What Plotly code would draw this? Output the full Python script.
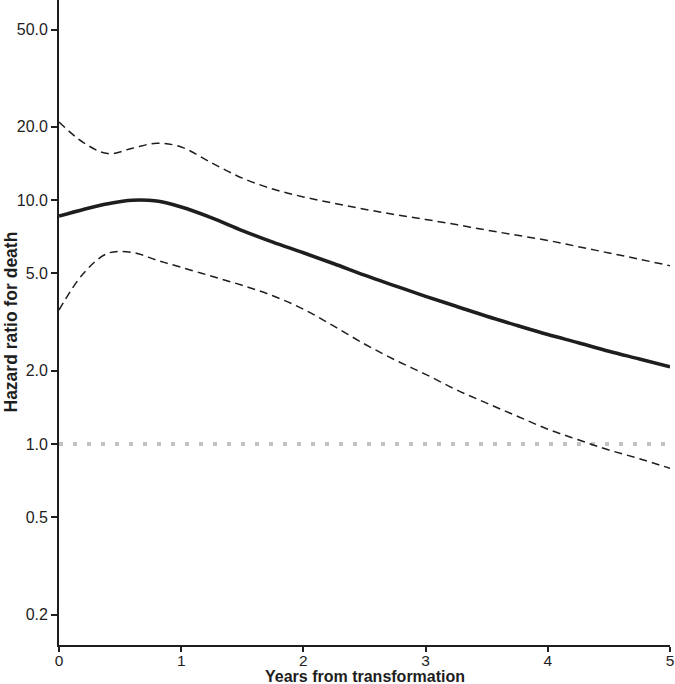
import plotly.graph_objects as go

years = [0, 0.2, 0.4, 0.6, 0.8, 1.0, 1.25, 1.5, 1.75, 2.0, 2.25, 2.5, 2.75,
         3.0, 3.25, 3.5, 3.75, 4.0, 4.25, 4.5, 4.75, 5.0]
hr = [8.6, 9.15, 9.65, 9.98, 9.9, 9.36, 8.45, 7.5, 6.72, 6.08, 5.48, 4.92, 4.45,
      4.03, 3.67, 3.34, 3.06, 2.81, 2.60, 2.40, 2.23, 2.07]
upper = [20.9, 17.2, 15.5, 16.3, 17.1, 16.5, 14.2, 12.3, 11.1, 10.3, 9.7, 9.17, 8.72,
         8.33, 7.93, 7.53, 7.17, 6.83, 6.44, 6.07, 5.72, 5.38]
lower = [3.54, 5.0, 6.05, 6.1, 5.67, 5.3, 4.87, 4.47, 4.05, 3.57, 3.04, 2.57, 2.21,
         1.93, 1.67, 1.47, 1.30, 1.15, 1.04, 0.945, 0.87, 0.795]
ref_x = [0, 5]
ref_y = [1.0, 1.0]
y_ticks = [0.2, 0.5, 1.0, 2.0, 5.0, 10.0, 20.0, 50.0]
y_labels = ["0.2", "0.5", "1.0", "2.0", "5.0", "10.0", "20.0", "50.0"]
x_ticks = [0, 1, 2, 3, 4, 5]

ink = "#1e1e1e"
fig = go.Figure()
fig.add_trace(go.Scatter(x=ref_x, y=ref_y, mode="lines",
                         line=dict(color="#c2c2c2", width=4, dash="4px,10px"),
                         showlegend=False, hoverinfo="skip"))
fig.add_trace(go.Scatter(x=years, y=upper, mode="lines",
                         line=dict(color=ink, width=1.5, dash="8px,5px", shape="spline", smoothing=1.0),
                         showlegend=False))
fig.add_trace(go.Scatter(x=years, y=lower, mode="lines",
                         line=dict(color=ink, width=1.5, dash="8px,5px", shape="spline", smoothing=1.0),
                         showlegend=False))
fig.add_trace(go.Scatter(x=years, y=hr, mode="lines",
                         line=dict(color=ink, width=3.5, shape="spline", smoothing=1.0),
                         showlegend=False))

font_family = "Liberation Sans, Arial, sans-serif"
fig.update_layout(
    width=675, height=684,
    margin=dict(l=59, r=5, t=0, b=39),
    plot_bgcolor="white", paper_bgcolor="white",
    font=dict(family=font_family, size=16, color=ink),
    xaxis=dict(range=[0, 5], tickvals=x_ticks, ticks="outside", ticklen=5, tickwidth=1.5,
               tickcolor=ink, showline=True, linecolor=ink, linewidth=1.8,
               tickfont=dict(size=15.5), ticklabelstandoff=-5,
               showgrid=False, zeroline=False, automargin=False),
    yaxis=dict(type="log", range=[-0.824, 1.82], tickvals=y_ticks, ticktext=y_labels,
               ticks="outside", ticklen=6, tickwidth=1.5, tickcolor=ink,
               showline=True, linecolor=ink, linewidth=1.8,
               showgrid=False, zeroline=False, automargin=False),
    annotations=[
        dict(text="<b>Years from transformation</b>", xref="paper", yref="paper",
             x=0.5, y=0, yshift=-31, showarrow=False, xanchor="center", yanchor="middle",
             font=dict(size=16, family=font_family, color=ink)),
        dict(text="<b>Hazard ratio for death</b>", xref="paper", yref="paper",
             x=0, y=0.5, xshift=-49, showarrow=False, textangle=-90,
             xanchor="center", yanchor="middle",
             font=dict(size=17.5, family=font_family, color=ink)),
    ],
)

fig.write_html("out.html", config={"displayModeBar": False},
               post_script="document.body.style.margin='0';document.body.style.padding='0';")
